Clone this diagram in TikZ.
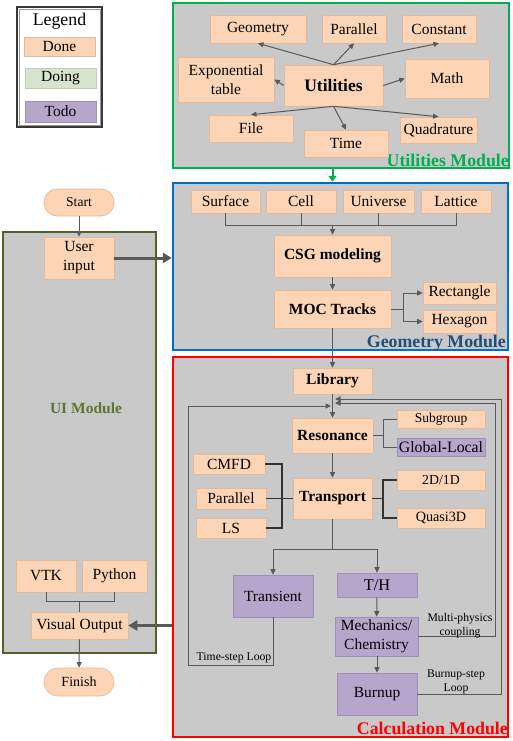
\documentclass[tikz,border=0pt]{standalone}
\usepackage{fontspec}
\setmainfont{Liberation Serif}
\newfontfamily\lserif{Liberation Serif}
\usetikzlibrary{arrows.meta,calc}
\definecolor{donec}{HTML}{FBD5B5}
\definecolor{donebd}{HTML}{E2B99C}
\definecolor{doingc}{HTML}{D8E4CD}
\definecolor{doingbd}{HTML}{BFCDB2}
\definecolor{todoc}{HTML}{B6A6CC}
\definecolor{todobd}{HTML}{9F8FB8}
\definecolor{modfill}{HTML}{C9C9C9}
\definecolor{lngray}{HTML}{595959}
\definecolor{ugreen}{HTML}{00B050}
\definecolor{gblue}{HTML}{0070C0}
\definecolor{gbluetxt}{HTML}{1F4E79}
\definecolor{cred}{HTML}{FF0000}
\definecolor{uiolive}{HTML}{4F6228}
\definecolor{uitxt}{HTML}{5F7530}
\newcommand\fsz[1]{\lserif\fontsize{#1}{19}\selectfont}
\begin{document}
\begin{tikzpicture}[x=1pt,y=-1pt,
  wh/.style 2 args={minimum width=#1pt, minimum height=#2pt},
  done/.style={draw=donebd, fill=donec, line width=0.6pt, inner sep=1pt, font=\fsz{15.5}, align=center},
  doing/.style={done, draw=doingbd, fill=doingc},
  todo/.style={done, draw=todobd, fill=todoc},
  bdone/.style={done, font=\fsz{15.5}\bfseries},
  modbox/.style={fill=modfill, line width=2.4pt, inner sep=0pt},
  modlabel/.style={font=\fsz{17.8}\bfseries, inner sep=0pt},
  ln/.style={draw=lngray, line width=1pt},
  arr/.style={ln, -{Triangle[length=5.5pt,width=5pt]}},
  bigarr/.style={draw=lngray, line width=3pt, -{Triangle[length=9pt,width=10pt]}},
  small/.style={font=\fsz{11.7}, align=center, inner sep=0pt},
  ]
\useasboundingbox (0,0) rectangle (512,741);
\fill[white] (0,0) rectangle (512,741);

% ---------- Legend ----------
\node[draw=black!78, line width=2pt, fill=white, wh={85}{120}] (leg) at (59.5,67) {};
\node[draw=black!40, line width=0.8pt, wh={81}{116}] (legin) at (59.5,67) {};
\node[font=\fsz{17.8}, inner sep=0pt] (legt) at (59.5,21) {Legend};
\node[done, wh={71}{19}] (ldone) at (59.5,46.5) {Done};
\node[doing, wh={71}{20}] (ldoing) at (60.5,78) {Doing};
\node[todo, wh={71}{21}] (ltodo) at (60.5,111.5) {Todo};

% ---------- Module boxes ----------
\node[modbox, draw=ugreen, wh={336}{165}] (umod) at (341,85.5) {};
\node[modbox, draw=gblue, wh={335}{167}] (gmod) at (340.5,266.5) {};
\node[modbox, draw=cred, wh={335}{380}] (cmod) at (340.5,547) {};
\node[modbox, draw=uiolive, wh={153}{421}] (uimod) at (79.5,442.5) {};

\node[modlabel, text=ugreen, anchor=base east] (ulab) at (509,166.5) {Utilities Module};
\node[modlabel, text=gbluetxt, anchor=base east] (glab) at (506,347) {Geometry Module};
\node[modlabel, text=cred, anchor=base east] (clab) at (508,734) {Calculation Module};
\node[font=\fsz{15.5}\bfseries, text=uitxt, inner sep=0pt] (uilab) at (86,408) {UI Module};

% ---------- Utilities ----------
\node[done, wh={96}{28}] (geo) at (258,29) {Geometry};
\node[done, wh={64}{28}] (upar) at (354,29) {Parallel};
\node[done, wh={74}{28}] (const) at (439,29) {Constant};
\node[done, wh={96}{45}] (expo) at (226,79.5) {Exponential\\table};
\node[done, font=\fsz{17.5}\bfseries, wh={99}{41}] (util) at (333.5,85.5) {Utilities};
\node[done, wh={84}{39}] (math) at (447,78.5) {Math};
\node[done, wh={84}{27}] (file) at (251,128.5) {File};
\node[done, wh={84}{27}] (time) at (346,143.5) {Time};
\node[done, wh={77}{26}] (quad) at (438.5,130) {Quadrature};

\draw[arr] (util.north) -- (geo.south);
\draw[arr] (util.north) -- (upar.south);
\draw[arr] (util.north) -- (const.south);
\draw[arr] (util.west) -- (expo.east);
\draw[arr] (util.east) -- (math.west);
\draw[arr] (util.south) -- (file.north);
\draw[arr] (util.south) -- (time.north);
\draw[arr] (util.south) -- (quad.north);

% ---------- Geometry ----------
\node[done, wh={69}{23}] (surf) at (225.5,201.5) {Surface};
\node[done, wh={70}{23}] (cell) at (301,201.5) {Cell};
\node[done, wh={71}{23}] (univ) at (378.5,201.5) {Universe};
\node[done, wh={70}{23}] (latt) at (456,201.5) {Lattice};
\node[bdone, wh={117}{42}] (csg) at (332.5,256) {CSG modeling};
\node[bdone, wh={117}{38}] (moc) at (332.5,309) {MOC Tracks};
\node[done, wh={73}{22}] (rect) at (459.5,293) {Rectangle};
\node[done, wh={73}{23}] (hex) at (459.5,321.5) {Hexagon};

\draw[ugreen, line width=2pt, -{Triangle[length=6pt,width=8pt]}] (csg.north |- umod.south) -- (csg.north |- gmod.north);

\coordinate (gbus) at (0,225);
\draw[ln] (surf.south) -- (surf.south |- gbus) -- (latt.south |- gbus) -- (latt.south);
\draw[ln] (cell.south) -- (cell.south |- gbus);
\draw[ln] (univ.south) -- (univ.south |- gbus);
\draw[arr] (csg.north |- gbus) -- (csg.north);
\draw[arr] (csg) -- (moc);
\coordinate (mfork) at (403,0);
\draw[arr] (moc.east) -- (moc.east -| mfork) |- (rect.west);
\draw[arr] (moc.east -| mfork) |- (hex.west);

% ---------- UI ----------
\node[done, wh={70}{27}, rounded corners=13pt, font=\fsz{13.6}] (start) at (79,202.5) {Start};
\node[done, wh={70}{42}] (user) at (79,258) {User\\input};
\node[done, wh={60}{32}] (vtk) at (46,576) {VTK};
\node[done, wh={65}{32}] (py) at (114.5,576) {Python};
\node[done, wh={97}{27}] (vis) at (79.5,625.5) {Visual Output};
\node[done, wh={70}{28}, rounded corners=14pt, font=\fsz{14}] (finish) at (79,682) {Finish};

\draw[arr] (start) -- (user);
\draw[bigarr] (user.east) -- (user.east -| gmod.west);
\coordinate (vbus) at (0,601);
\draw[ln] (vtk.south) -- (vtk.south |- vbus) -- (py.south |- vbus) -- (py.south);
\draw[ln] (vis.north |- vbus) -- (vis.north);
\draw[arr] (vis) -- (finish);
\draw[bigarr] (vis.east -| cmod.west) -- (vis.east);

% ---------- Calculation ----------
\node[bdone, wh={79}{26}] (lib) at (332.5,381) {Library};
\node[bdone, wh={81}{35}] (res) at (332.5,435.5) {Resonance};
\node[done, wh={88}{18}, font=\fsz{13.5}] (sub) at (441,419) {Subgroup};
\node[todo, wh={88}{18}, font=\fsz{15.8}] (gl) at (441,447) {Global-Local};
\node[done, wh={72}{20}] (cmfd) at (229,464) {CMFD};
\node[done, wh={70}{21}] (cpar) at (231,498.5) {Parallel};
\node[done, wh={70}{20}] (ls) at (231,528) {LS};
\node[bdone, wh={79}{41}] (trans) at (332.5,498.5) {Transport};
\node[done, wh={88}{20}, font=\fsz{13.8}] (d2) at (441,480) {2D/1D};
\node[done, wh={88}{20}, font=\fsz{14.2}] (q3) at (441,518) {Quasi3D};
\node[todo, wh={80}{42}] (trsn) at (273,596) {Transient};
\node[todo, wh={80}{24}, font=\fsz{16.3}] (th) at (377,585) {T/H};
\node[todo, wh={83}{39}] (mech) at (376.5,636.5) {Mechanics/\\Chemistry};
\node[todo, wh={80}{42}] (burn) at (377,694) {Burnup};

\draw[arr] (moc.south) -- (lib.north);
\draw[arr] (lib.south) -- (res.north);
\coordinate (rfork) at (383,0);
\draw[ln] (res.east) -- (res.east -| rfork) |- (sub.west);
\draw[ln] (res.east -| rfork) |- (gl.west);
\draw[arr] (res) -- (trans);
\coordinate (cbus) at (282,0);
\draw[ln, draw=black!80, line width=1.3pt] (cmfd.east) -- (cmfd.east -| cbus) -- (ls.east -| cbus) -- (ls.east);
\draw[ln, draw=black!80, line width=1.3pt] (cpar.east) -- (trans.west);
\draw[ln, draw=black!80, line width=1.3pt] (trans.east) -- (trans.east -| rfork) |- (d2.west);
\draw[ln, draw=black!80, line width=1.3pt] (trans.east -| rfork) |- (q3.west);

\coordinate (tbus) at (0,549);
\draw[ln] (trans.south) -- (trans.south |- tbus);
\draw[ln] (trsn.north |- tbus) -- (th.north |- tbus);
\draw[arr] (trsn.north |- tbus) -- (trsn.north);
\draw[arr] (th.north |- tbus) -- (th.north);
\draw[arr] (th) -- (mech);
\draw[arr] (mech.south -| burn.north) -- (burn.north);

% loops
\coordinate (tl1) at (188,665);
\coordinate (tl2) at (188,406);
\coordinate (tlend) at (331,406);
\draw[arr] (trsn.south) -- (trsn.south |- tl1) -- (tl1) -- (tl2) -- (tlend);
\coordinate (mp1) at (495,403);
\coordinate (mpend) at (335,403);
\draw[arr] (mech.east) -- (mech.east -| mp1) -- (mp1) -- (mpend);
\coordinate (bl1) at (501,399);
\coordinate (blend) at (335,399);
\draw[arr] (burn.east) -- (burn.east -| bl1) -- (bl1) -- (blend);

\node[small] (tslab) at (234,658) {Time-step Loop};
\node[small] (mplab) at (460,626) {Multi-physics\\[-5pt]coupling};
\node[small] (bllab) at (456,682) {Burnup-step\\[-5pt]Loop};
\end{tikzpicture}
\end{document}
